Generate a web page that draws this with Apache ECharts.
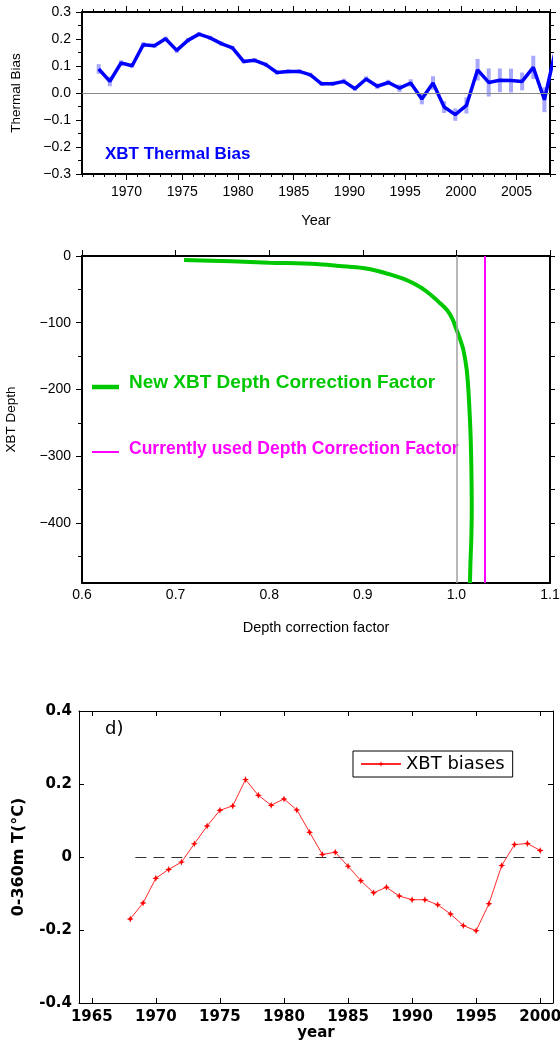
<!DOCTYPE html>
<html>
<head>
<meta charset="utf-8">
<script src="https://cdn.jsdelivr.net/npm/echarts@6/dist/echarts.min.js"></script>
<style>
  html, body { margin: 0; padding: 0; background: #fff; }
  #chart { width: 560px; height: 1045px; }
</style>
</head>
<body>
<div id="chart"></div>
<script>
// panel 1: XBT thermal bias (mid-year values) and error half-widths
const biasYears = [1967.5, 1968.5, 1969.5, 1970.5, 1971.5, 1972.5, 1973.5, 1974.5, 1975.5, 1976.5,
  1977.5, 1978.5, 1979.5, 1980.5, 1981.5, 1982.5, 1983.5, 1984.5, 1985.5, 1986.5,
  1987.5, 1988.5, 1989.5, 1990.5, 1991.5, 1992.5, 1993.5, 1994.5, 1995.5, 1996.5,
  1997.5, 1998.5, 1999.5, 2000.5, 2001.5, 2002.5, 2003.5, 2004.5, 2005.5, 2006.5,
  2007.5, 2008.5];
const biasValues = [0.089, 0.043, 0.111, 0.101, 0.179, 0.175, 0.201, 0.158, 0.195, 0.218,
  0.204, 0.183, 0.167, 0.117, 0.121, 0.105, 0.076, 0.080, 0.080, 0.067,
  0.034, 0.034, 0.043, 0.016, 0.052, 0.025, 0.039, 0.018, 0.037, -0.022,
  0.037, -0.052, -0.080, -0.046, 0.086, 0.039, 0.047, 0.046, 0.043, 0.095,
  -0.025, 0.16];
const biasErrors = [0.018, 0.018, 0.010, 0.008, 0.010, 0.008, 0.008, 0.010, 0.008, 0.008,
  0.008, 0.008, 0.008, 0.008, 0.008, 0.008, 0.008, 0.008, 0.008, 0.008,
  0.008, 0.008, 0.010, 0.008, 0.010, 0.010, 0.010, 0.014, 0.014, 0.020,
  0.025, 0.022, 0.023, 0.030, 0.040, 0.052, 0.044, 0.044, 0.033, 0.043,
  0.046, 0.040];
const yearTicks1 = [1970, 1975, 1980, 1985, 1990, 1995, 2000, 2005];

// panel 2: depth correction factor profile
const depths = [-6, -8, -10, -12, -15, -18, -22, -28, -35, -41, -50, -61, -70, -81, -95,
  -110, -125, -141, -170, -201, -240, -275, -320, -375, -420, -460, -490];
const newFactor = [0.709, 0.76, 0.80, 0.85, 0.875, 0.90, 0.915, 0.93, 0.945, 0.954, 0.965, 0.975, 0.982, 0.99, 0.996,
  1.0, 1.004, 1.0075, 1.011, 1.0128, 1.0143, 1.0153, 1.016, 1.0164, 1.016, 1.015, 1.0145];
const currentFactor = 1.034;
const depthTicks = [0, -100, -200, -300, -400];
const depthMinor = [-50, -150, -250, -350, -450];

// panel 3: 0-360m XBT biases
const yearsD = [1968, 1969, 1970, 1971, 1972, 1973, 1974, 1975, 1976, 1977, 1978, 1979, 1980,
  1981, 1982, 1983, 1984, 1985, 1986, 1987, 1988, 1989, 1990, 1991, 1992, 1993, 1994,
  1995, 1996, 1997, 1998, 1999, 2000];
const biasesD = [-0.170, -0.126, -0.058, -0.034, -0.014, 0.036, 0.085, 0.128, 0.140, 0.212, 0.169, 0.142, 0.159,
  0.129, 0.068, 0.007, 0.013, -0.025, -0.065, -0.098, -0.083, -0.107, -0.117, -0.117, -0.131, -0.156, -0.188,
  -0.202, -0.128, -0.023, 0.034, 0.037, 0.018];
const yearTicksD = [1965, 1970, 1975, 1980, 1985, 1990, 1995, 2000];
const zeroLineD = [1968.4, 2000];

const gmtFont = 'Liberation Sans';
const matFont = 'DejaVu Sans';
const minus = (s) => s.replace('-', '\u2212');
const plain = (v) => String(v);
// small 4-point star, like a matlab '*' marker
const starMark = 'path://M0,-5L1.4,-1.4L5,0L1.4,1.4L0,5L-1.4,1.4L-5,0L-1.4,-1.4Z';

const chart = echarts.init(document.getElementById('chart'));

const frame = { show: true, onZero: false, lineStyle: { color: '#000', width: 2 } };
const thin = { show: true, onZero: false, lineStyle: { color: '#000', width: 1 } };
const noLine = { show: false, onZero: false };

chart.setOption({
  animation: false,
  backgroundColor: '#fff',
  textStyle: { fontFamily: gmtFont },
  grid: [
    { left: 82, top: 12, width: 468, height: 162, outerBoundsMode: 'none' },
    { left: 82, top: 256, width: 468, height: 327, outerBoundsMode: 'none' },
    { left: 79, top: 711, width: 474, height: 292, outerBoundsMode: 'none' },
  ],
  xAxis: [
    // panel 1
    {
      gridIndex: 0, type: 'value', min: 1966, max: 2008, position: 'bottom',
      axisLine: frame, splitLine: { show: false },
      axisTick: { customValues: yearTicks1, length: 6, lineStyle: { color: '#000' } },
      axisLabel: { customValues: yearTicks1, formatter: plain, color: '#000', fontSize: 14, margin: 11 },
      name: 'Year', nameLocation: 'middle', nameGap: 39,
      nameTextStyle: { color: '#000', fontSize: 14.5 },
    },
    {
      gridIndex: 0, type: 'value', min: 1966, max: 2008, interval: 1, position: 'bottom',
      axisLine: noLine, splitLine: { show: false }, axisLabel: { show: false },
      axisTick: { length: 3, lineStyle: { color: '#000' } },
    },
    {
      gridIndex: 0, type: 'value', min: 1966, max: 2008, position: 'top',
      axisLine: frame, splitLine: { show: false }, axisLabel: { show: false },
      axisTick: { customValues: yearTicks1, length: 6, lineStyle: { color: '#000' } },
    },
    {
      gridIndex: 0, type: 'value', min: 1966, max: 2008, interval: 1, position: 'top',
      axisLine: noLine, splitLine: { show: false }, axisLabel: { show: false },
      axisTick: { length: 3, lineStyle: { color: '#000' } },
    },
    // panel 2
    {
      gridIndex: 1, type: 'value', min: 0.6, max: 1.1, interval: 0.1, position: 'bottom',
      axisLine: frame, splitLine: { show: false },
      axisTick: { show: false },
      axisLabel: { color: '#000', fontSize: 14, margin: 5, formatter: (v) => v.toFixed(1) },
      name: 'Depth correction factor', nameLocation: 'middle', nameGap: 37,
      nameTextStyle: { color: '#000', fontSize: 14.5 },
    },
    {
      gridIndex: 1, type: 'value', min: 0.6, max: 1.1, interval: 0.1, position: 'top',
      axisLine: frame, splitLine: { show: false }, axisLabel: { show: false },
      axisTick: { length: 6, lineStyle: { color: '#000' } },
    },
    // panel 3
    {
      gridIndex: 2, type: 'value', min: 1964, max: 2001, position: 'bottom',
      axisLine: thin, splitLine: { show: false },
      axisTick: { customValues: yearTicksD, inside: true, length: 5, lineStyle: { color: '#000' } },
      axisLabel: { customValues: yearTicksD, formatter: plain, color: '#000', fontSize: 15, fontWeight: 'bold', fontFamily: matFont, margin: 7 },
      name: 'year', nameLocation: 'middle', nameGap: 23,
      nameTextStyle: { color: '#000', fontSize: 15, fontWeight: 'bold', fontFamily: matFont },
    },
    {
      gridIndex: 2, type: 'value', min: 1964, max: 2001, position: 'top',
      axisLine: thin, splitLine: { show: false },
      axisTick: { customValues: yearTicksD, inside: true, length: 5, lineStyle: { color: '#000' } },
      axisLabel: { show: false },
    },
  ],
  yAxis: [
    // panel 1
    {
      gridIndex: 0, type: 'value', min: -0.3, max: 0.3, interval: 0.1, position: 'left',
      axisLine: frame, splitLine: { show: false },
      axisTick: { length: 6, lineStyle: { color: '#000' } },
      minorTick: { show: true, splitNumber: 2, length: 4, lineStyle: { color: '#000' } },
      axisLabel: {
        color: '#000', fontSize: 14, margin: 11,
        formatter: (v) => (Math.abs(v) < 1e-9 ? '0.0' : minus(v.toFixed(1))),
      },
      name: 'Thermal Bias', nameLocation: 'middle', nameGap: 59, nameRotate: 90,
      nameTextStyle: { color: '#000', fontSize: 13.5 },
    },
    {
      gridIndex: 0, type: 'value', min: -0.3, max: 0.3, interval: 0.1, position: 'right',
      axisLine: frame, splitLine: { show: false }, axisLabel: { show: false },
      axisTick: { length: 6, lineStyle: { color: '#000' } },
      minorTick: { show: true, splitNumber: 2, length: 4, lineStyle: { color: '#000' } },
    },
    // panel 2
    {
      gridIndex: 1, type: 'value', min: -490, max: 0, position: 'left',
      axisLine: frame, splitLine: { show: false },
      axisTick: { customValues: depthTicks, length: 6, lineStyle: { color: '#000' } },
      axisLabel: { customValues: depthTicks, color: '#000', fontSize: 14, margin: 11, formatter: (v) => minus(String(v)) },
      name: 'XBT Depth', nameLocation: 'middle', nameGap: 64, nameRotate: 90,
      nameTextStyle: { color: '#000', fontSize: 13.5 },
    },
    {
      gridIndex: 1, type: 'value', min: -490, max: 0, position: 'left',
      axisLine: noLine, splitLine: { show: false }, axisLabel: { show: false },
      axisTick: { customValues: depthMinor, length: 4, lineStyle: { color: '#000' } },
    },
    {
      gridIndex: 1, type: 'value', min: -490, max: 0, position: 'right',
      axisLine: frame, splitLine: { show: false }, axisLabel: { show: false },
      axisTick: { customValues: depthTicks.concat(depthMinor), length: 5, lineStyle: { color: '#000' } },
    },
    // panel 3
    {
      gridIndex: 2, type: 'value', min: -0.4, max: 0.4, interval: 0.2, position: 'left',
      axisLine: thin, splitLine: { show: false },
      axisTick: { inside: true, length: 5, lineStyle: { color: '#000' } },
      axisLabel: {
        color: '#000', fontSize: 15, fontWeight: 'bold', fontFamily: matFont, margin: 7,
        formatter: (v) => (Math.abs(v) < 1e-9 ? '0' : v.toFixed(1)),
      },
      name: '0-360m T(\u00b0C)', nameLocation: 'middle', nameGap: 52, nameRotate: 90,
      nameTextStyle: { color: '#000', fontSize: 16, fontWeight: 'bold', fontFamily: matFont },
    },
    {
      gridIndex: 2, type: 'value', min: -0.4, max: 0.4, interval: 0.2, position: 'right',
      axisLine: thin, splitLine: { show: false },
      axisTick: { inside: true, length: 5, lineStyle: { color: '#000' } },
      axisLabel: { show: false },
    },
  ],
  legend: {
    data: ['XBT biases'],
    left: 353, top: 751,
    padding: [4, 8, 4, 7],
    borderColor: '#000', borderWidth: 1,
    itemWidth: 40, itemHeight: 7,
    textStyle: { fontFamily: matFont, fontSize: 18, color: '#000' },
  },
  graphic: [
    {
      type: 'text', left: 105, top: 146,
      style: { text: 'XBT Thermal Bias', fill: '#0000ff', font: 'bold 17px "Liberation Sans"' },
    },
    {
      type: 'line', shape: { x1: 92, y1: 387, x2: 119, y2: 387 },
      style: { stroke: '#00c800', lineWidth: 4.5 },
    },
    {
      type: 'text', left: 129, top: 373,
      style: { text: 'New XBT Depth Correction Factor', fill: '#00c800', font: 'bold 19px "Liberation Sans"' },
    },
    {
      type: 'line', shape: { x1: 92, y1: 452, x2: 119, y2: 452 },
      style: { stroke: '#ff00ff', lineWidth: 2 },
    },
    {
      type: 'text', left: 129, top: 440,
      style: { text: 'Currently used Depth Correction Factor', fill: '#ff00ff', font: 'bold 17.5px "Liberation Sans"' },
    },
    {
      type: 'text', left: 105, top: 720,
      style: { text: 'd)', fill: '#000', font: '18px "DejaVu Sans"' },
    },
  ],
  series: [
    {
      type: 'custom', xAxisIndex: 0, yAxisIndex: 0, z: 1,
      data: biasYears.map((y, i) => [y, biasValues[i], biasErrors[i]]),
      renderItem: (params, api) => {
        const x = api.value(0);
        const v = api.value(1);
        const e = api.value(2);
        const top = api.coord([x, v + e]);
        const bot = api.coord([x, v - e]);
        const cs = params.coordSys;
        if (top[0] > cs.x + cs.width) return null;
        return {
          type: 'rect',
          shape: { x: top[0] - 2, y: top[1], width: 4, height: bot[1] - top[1] },
          style: { fill: 'rgba(110,110,250,0.6)' },
        };
      },
    },
    {
      type: 'line', xAxisIndex: 0, yAxisIndex: 0, z: 3,
      data: biasYears.map((y, i) => [y, biasValues[i]]),
      showSymbol: false, clip: true,
      lineStyle: { color: '#0000ff', width: 3.5 },
      markLine: {
        silent: true, symbol: 'none', label: { show: false },
        lineStyle: { color: '#888', width: 1, type: 'solid' },
        data: [{ yAxis: 0 }],
      },
    },
    {
      type: 'line', xAxisIndex: 4, yAxisIndex: 2, z: 3,
      name: 'New XBT Depth Correction Factor',
      data: depths.map((d, i) => [newFactor[i], d]),
      showSymbol: false, smooth: 0.3,
      lineStyle: { color: '#00c800', width: 4 },
      markLine: {
        silent: true, symbol: 'none', label: { show: false },
        data: [
          { xAxis: 1.0, lineStyle: { color: '#a0a0a0', width: 1.5, type: 'solid' } },
          { xAxis: currentFactor, lineStyle: { color: '#ff00ff', width: 2, type: 'solid' } },
        ],
      },
    },
    {
      type: 'line', xAxisIndex: 6, yAxisIndex: 6, z: 3,
      name: 'XBT biases',
      data: yearsD.map((y, i) => [y, biasesD[i]]),
      symbol: starMark, symbolSize: 7,
      itemStyle: { color: '#ff0000' },
      lineStyle: { color: '#ff2a2a', width: 1 },
      markLine: {
        silent: true, symbol: 'none', label: { show: false },
        lineStyle: { color: '#333', width: 1.2, type: [11, 7] },
        data: [[{ coord: [zeroLineD[0], 0] }, { coord: [zeroLineD[1], 0] }]],
      },
    },
  ],
});
</script>
</body>
</html>
